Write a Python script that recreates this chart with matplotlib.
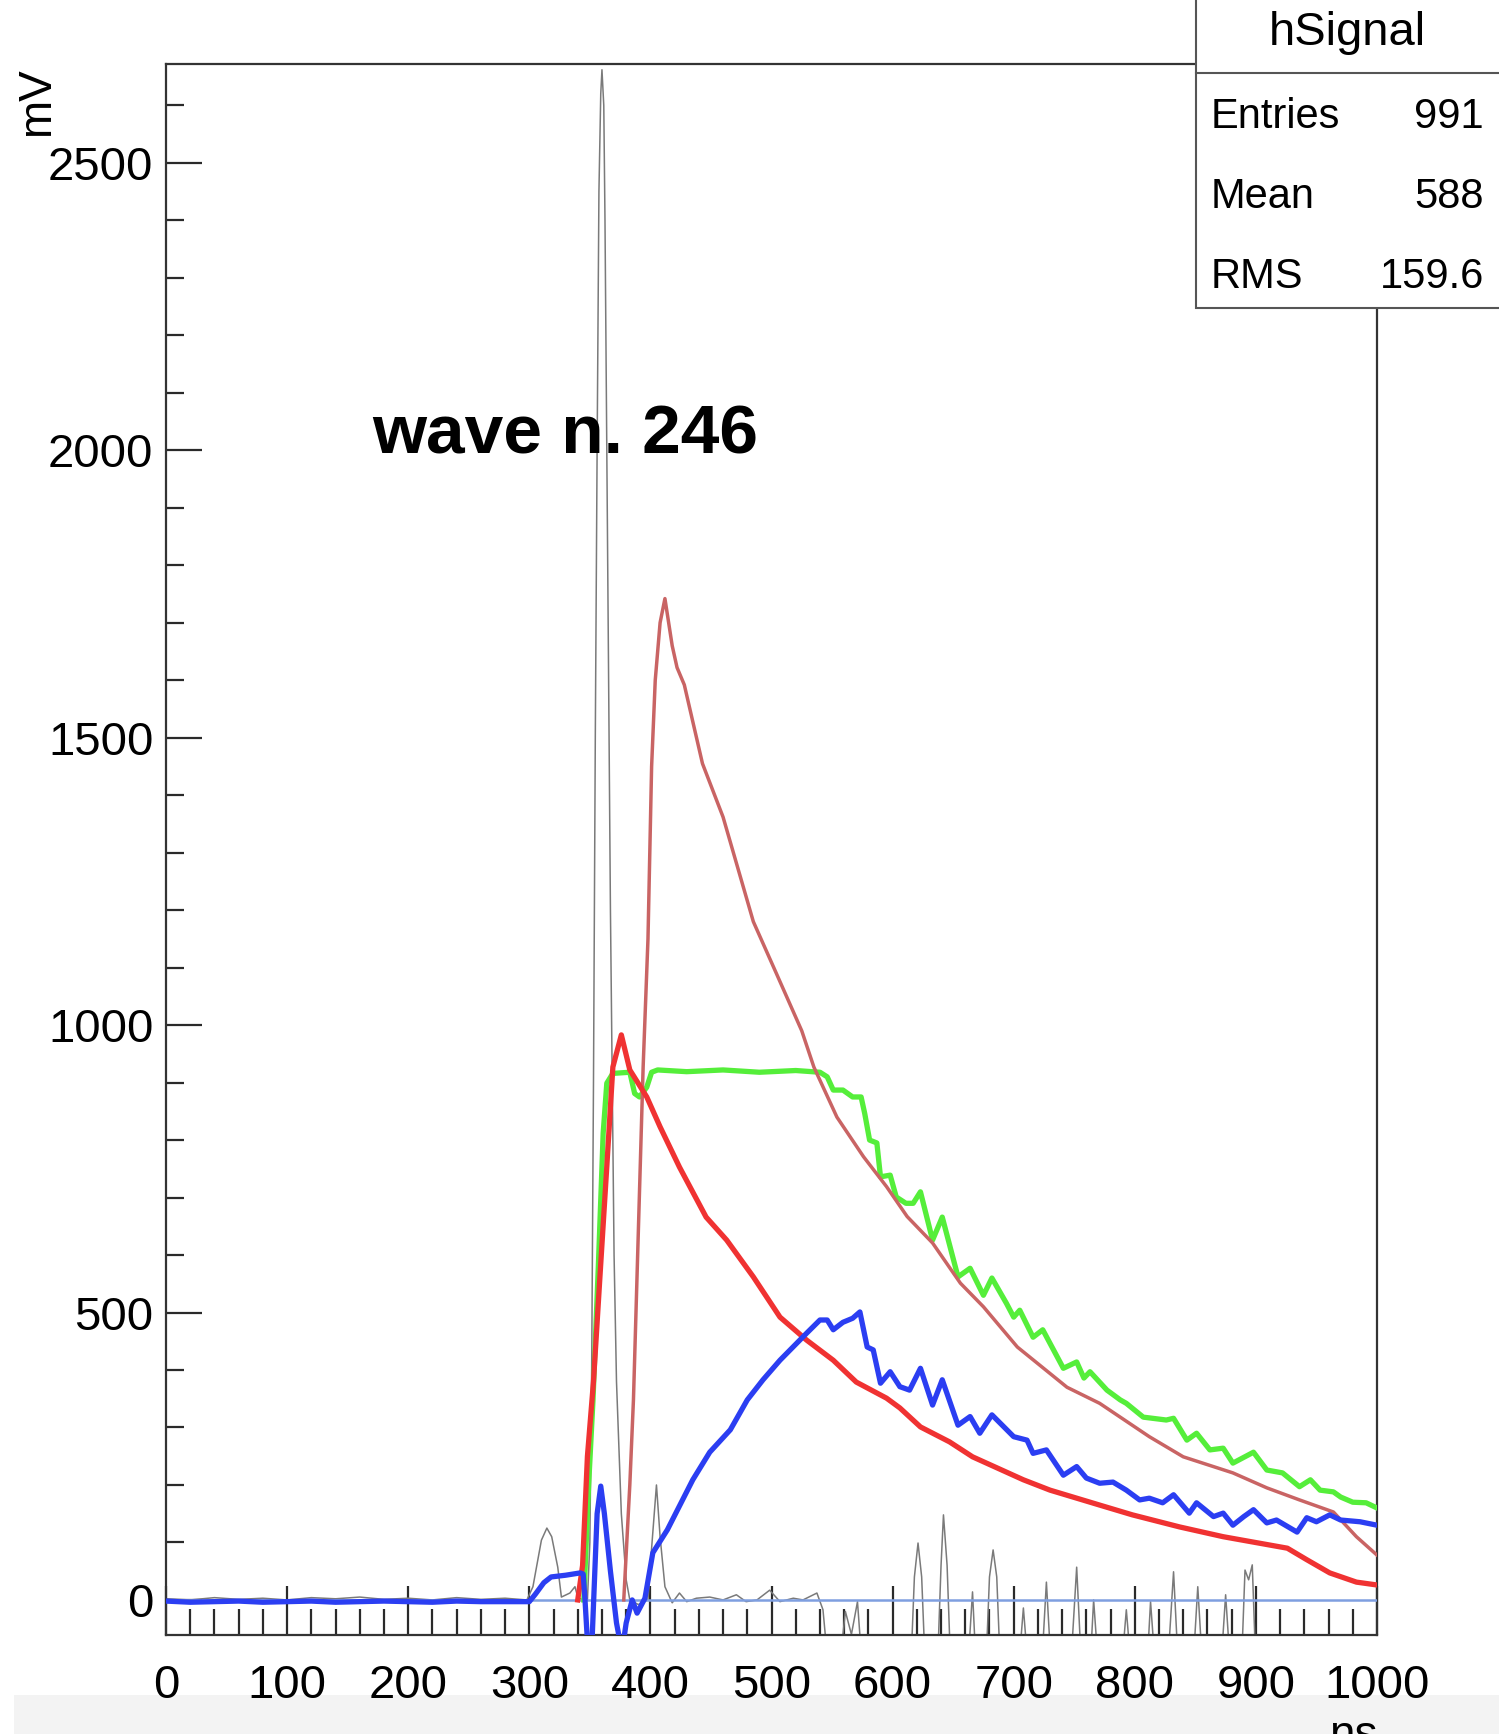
import matplotlib
matplotlib.use("Agg")
import matplotlib.pyplot as plt
from matplotlib.ticker import MultipleLocator
from matplotlib.patches import Rectangle
from matplotlib.lines import Line2D

plt.rcParams["font.family"] = ["Liberation Sans", "DejaVu Sans"]

# ---- data (time in ns, amplitude in mV) ----
gray_t = [0, 20, 40, 60, 80, 100, 120, 140, 160, 180, 200, 220, 240, 260, 280, 298,
          303, 310, 314.5, 318.5, 323.5, 326.5, 333.5, 337.7, 340, 344, 348,
          350, 351.5, 353, 354.5, 356, 357.5, 359, 360, 361.5, 362.5, 364, 365.5, 367, 368.5, 370, 372, 376, 380, 383, 390, 398,
          401, 405, 408, 412, 418, 424, 430, 438, 449, 460, 471, 479, 488, 498.5, 507, 518, 526, 537.5, 542.5, 547,
          556, 561, 566, 571, 575, 615, 618, 621, 624, 627, 637, 640, 642, 645, 648, 662, 666, 669, 677, 680, 683, 686, 689,
          704, 708, 712, 723, 727, 731, 747, 752, 756, 763, 766, 770, 789, 793, 797, 810, 813, 817, 827, 832, 836,
          848, 852, 856, 871, 875, 879, 888, 891, 894, 897, 900, 1000]
gray_v = [2, 0, 4, 1, 3, 0, 4, 2, 5, 1, 3, 0, 4, 1, 3, 0,
          23, 104, 125, 110, 57, 5, 12, 23, 5, 0, 0,
          100, 400, 900, 1500, 2000, 2450, 2620, 2662, 2600, 2400, 2000, 1600, 1200, 900, 600, 380, 150, 35, 0, -8, 0,
          90, 200, 110, 23, -5, 12, -3, 3, 5, 0, 9, -3, 0, 17, -3, 3, 0, 12, -17, -120,
          -120, -20, -60, -3, -120, -120, 40, 99, 40, -120, -120, 60, 148, 60, -120, -120, 14, -120, -120, 40, 87, 40, -120,
          -120, -14, -120, -120, 31, -120, -120, 57, -120, -120, 0, -120, -120, -17, -120, -120, -3, -120, -120, 49, -120,
          -120, 23, -120, -120, 9, -120, -120, 52, 35, 61, -120, -120]

rose_t = [378, 383, 386, 390, 394, 398, 401, 404, 408, 412, 418, 422, 428, 443, 460, 485, 504, 525, 535, 554, 576,
          595, 612, 633, 656, 675, 703, 744, 771, 812, 840, 881, 909, 936, 964, 983, 1000]
rose_v = [0, 200, 348, 638, 927, 1150, 1450, 1600, 1700, 1742, 1660, 1622, 1592, 1455, 1362, 1180, 1090, 990, 927, 840, 771,
          719, 667, 621, 551, 510, 440, 370, 342, 284, 249, 221, 195, 174, 153, 110, 78]

red_t = [340, 344, 348, 353, 358, 364, 369, 376, 383, 397, 408, 424, 446, 463, 485, 507, 529, 551, 570, 595,
         606, 623, 647, 666, 708, 730, 771, 798, 837, 873, 926, 942, 961, 983, 1000]
red_v = [0, 60, 250, 380, 551, 754, 927, 983, 922, 875, 823, 753, 666, 626, 562, 492, 452, 417, 379, 351,
         334, 301, 275, 249, 209, 191, 165, 148, 127, 110, 90, 70, 47, 31, 26]

green_t = [345, 349, 352.6, 357, 361, 364, 369, 383, 387, 391, 397, 401, 406, 430, 460, 490, 520, 540, 546, 551, 559,
           567, 574, 577, 581, 587, 590, 598, 603, 611, 617, 623, 633, 641, 654, 664, 675, 682, 694, 700, 705, 716, 724,
           741, 752, 758, 763, 777, 788, 793, 807, 826, 832, 843, 851, 862, 873, 881, 898, 909, 922, 936, 945, 953, 964,
           970, 980, 991, 1000]
green_v = [0, 200, 348, 580, 812, 899, 916, 918, 881, 875, 892, 918, 922, 919, 922, 918, 921, 918, 910, 887, 887,
           875, 875, 846, 800, 795, 736, 739, 701, 690, 690, 710, 626, 666, 562, 577, 530, 560, 516, 492, 504, 457, 470,
           403, 414, 386, 397, 365, 348, 342, 318, 313, 316, 278, 290, 261, 264, 238, 257, 226, 221, 197, 209, 191, 188,
           179, 170, 169, 160]

blue_t = [0, 20, 40, 60, 80, 100, 120, 140, 160, 180, 200, 220, 240, 260, 280, 300, 305, 312, 318, 330, 342, 344.5,
          346, 348.5, 352, 356, 359, 362, 367, 372, 376.5, 380, 385, 389, 395.5, 402, 414, 435, 449, 466, 480, 493, 507,
          529, 540, 546, 551, 559, 567, 573, 579, 584, 590, 598, 606, 614, 623, 633, 641, 654, 664, 672, 682, 700, 711,
          716, 727, 741, 752, 760, 771, 782, 793, 804, 812, 823, 832, 845, 851, 865, 873, 881, 890, 898, 909, 917,
          934, 942, 950, 961, 970, 986, 1000]
blue_v = [-2, -4, -3, -2, -4, -3, -2, -4, -3, -2, -3, -4, -2, -3, -3, -3, 10, 30, 40, 43, 47, 45,
          0, -90, -62, 150, 198, 150, 50, -40, -90, -40, 0, -23, 3, 82, 122, 209, 257, 296, 348, 383, 417,
          464, 487, 487, 470, 483, 490, 501, 440, 435, 377, 397, 371, 365, 403, 339, 383, 304, 319, 290, 322, 284, 278,
          255, 261, 217, 232, 212, 203, 205, 191, 174, 177, 169, 183, 151, 169, 145, 151, 130, 145, 157, 134, 139,
          118, 143, 136, 148, 139, 136, 130]

x_ticks = [0, 100, 200, 300, 400, 500, 600, 700, 800, 900, 1000]
y_ticks = [0, 500, 1000, 1500, 2000, 2500]
stats_names = ["Entries", "Mean", "RMS"]
stats_vals = ["991", "588", "159.6"]

W, H = 1499, 1734
fig = plt.figure(figsize=(W / 100, H / 100), dpi=100)
fig.patch.set_facecolor("white")

ax = fig.add_axes([166 / W, 99 / H, 1211 / W, 1571 / H])
ax.plot(gray_t, gray_v, color="#7a7a7a", lw=1.1, zorder=2)
ax.axhline(0, color="#7f9fe0", lw=1.8, zorder=3)
ax.plot(green_t, green_v, color="#55ee3a", lw=3.8, zorder=4)
ax.plot(rose_t, rose_v, color="#c96464", lw=2.5, zorder=5)
ax.plot(red_t, red_v, color="#f03232", lw=3.8, zorder=6)
ax.plot(blue_t, blue_v, color="#2b3ef2", lw=3.8, zorder=7)

ax.set_xlim(0, 1000)
ax.set_ylim(-61, 2672)
ax.set_xticks(x_ticks)
ax.set_yticks(y_ticks)
ax.xaxis.set_minor_locator(MultipleLocator(20))
ax.yaxis.set_minor_locator(MultipleLocator(100))
ax.tick_params(axis="both", which="both", direction="in", width=1.6, color="#2a2a2a", labelsize=34)
ax.tick_params(axis="x", which="major", length=35, pad=21)
ax.tick_params(axis="x", which="minor", length=18.5)
ax.tick_params(axis="y", which="major", length=26, pad=9)
ax.tick_params(axis="y", which="minor", length=13)
for sp in ax.spines.values():
    sp.set_linewidth(1.6)
    sp.set_color("#333333")

ax.text(170, 2025, "wave n. 246", fontsize=50, fontweight="bold", ha="left", va="center", zorder=8)

# axis titles (ROOT style: at the ends of the axes)
fig.text(37 / W, 1 - 102 / H, "mV", rotation=90, ha="center", va="center", fontsize=33)

# grey strip at the very bottom of the screenshot
fig.add_artist(Rectangle((14 / W, 0), 1, 39 / H, transform=fig.transFigure,
                         facecolor="#f3f3f3", edgecolor="none", zorder=0))
fig.text(1353 / W, -14 / H, "ns", ha="center", va="baseline", fontsize=33)

# stats box
fig.add_artist(Rectangle((1196 / W, 1 - 308 / H), 0.4, 0.4, transform=fig.transFigure,
                         facecolor="white", edgecolor="#555555", lw=1.5, zorder=10))
fig.add_artist(Line2D([1196 / W, 1], [1 - 73 / H, 1 - 73 / H], transform=fig.transFigure,
                      color="#555555", lw=1.5, zorder=11))
fig.text(1347 / W, 1 - 33 / H, "hSignal", ha="center", va="center", fontsize=34, zorder=12)
for i, (name, val) in enumerate(zip(stats_names, stats_vals)):
    yy = 1 - (117 + 80 * i) / H
    fig.text(1211 / W, yy, name, ha="left", va="center", fontsize=30, zorder=12)
    fig.text(1484 / W, yy, val, ha="right", va="center", fontsize=30, zorder=12)

fig.savefig("out.png", dpi=100)
